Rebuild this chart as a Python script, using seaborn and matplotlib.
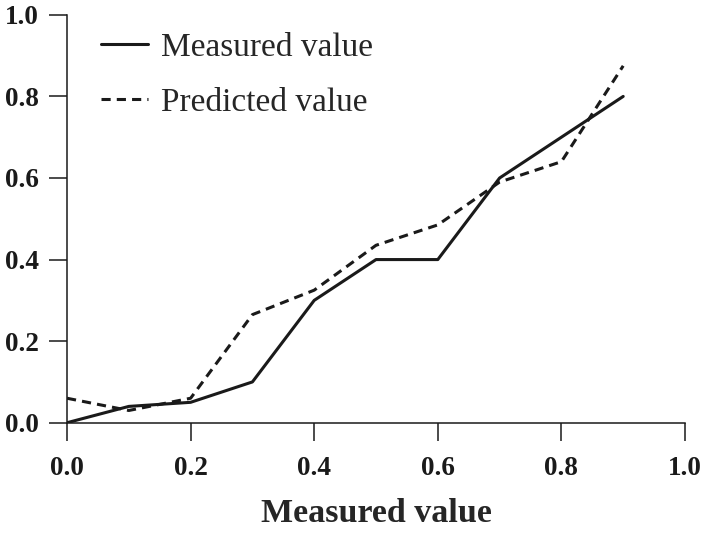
import numpy as np
import pandas as pd
import matplotlib
matplotlib.use('Agg')
import matplotlib.pyplot as plt
import seaborn as sns

# 데이터
x_vals = [0.0, 0.1, 0.2, 0.3, 0.4, 0.5, 0.6, 0.7, 0.8, 0.9]
measured = [0.0, 0.04, 0.05, 0.10, 0.30, 0.40, 0.40, 0.60, 0.70, 0.80]
predicted = [0.06, 0.03, 0.06, 0.265, 0.325, 0.435, 0.485, 0.59, 0.64, 0.875]
ticks = [0.0, 0.2, 0.4, 0.6, 0.8, 1.0]

sns.set_style('ticks')
plt.rcParams['font.family'] = ['Liberation Serif', 'DejaVu Serif']

fig = plt.figure(figsize=(7.04, 5.34), dpi=100)
ax = fig.add_axes([0.0952, 0.2084, 0.8778, 0.7638])

sns.lineplot(x=x_vals, y=measured, ax=ax, color='#1a1a1a', lw=2.2,
             label='Measured value')
sns.lineplot(x=x_vals, y=predicted, ax=ax, color='#1a1a1a', lw=2.2,
             linestyle=(0, (3, 2)), label='Predicted value')

ax.set_xlim(0, 1)
ax.set_ylim(0, 1)
ax.set_xticks(ticks)
ax.set_yticks(ticks)
ax.set_xticklabels(['%.1f' % t for t in ticks], fontsize=19.5, fontweight='bold')
ax.set_yticklabels(['%.1f' % t for t in ticks], fontsize=19.5, fontweight='bold')
ax.tick_params(direction='out', length=13, width=1.1, color='#1a1a1a')
ax.tick_params(axis='x', pad=11)
ax.tick_params(axis='y', pad=7)
ax.set_xlabel('Measured value', fontsize=24.5, fontweight='bold', labelpad=12)
ax.set_ylabel('')
for side in ['left', 'bottom']:
    ax.spines[side].set_linewidth(1.1)
    ax.spines[side].set_color('#1a1a1a')
sns.despine(ax=ax)
for lab in ax.get_xticklabels() + ax.get_yticklabels():
    lab.set_color('#1a1a1a')

ax.legend(loc='upper left', frameon=False, fontsize=24, handlelength=1.42,
          handletextpad=0.4, labelspacing=0.72, bbox_to_anchor=(0.006, 1.03))

fig.savefig('out.png', dpi=100)
